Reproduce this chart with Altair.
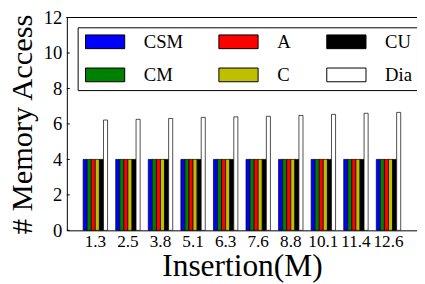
import altair as alt
import pandas as pd

insertions = ["1.3", "2.5", "3.8", "5.1", "6.3", "7.6", "8.8", "10.1", "11.4", "12.6"]
series = ["CSM", "CM", "A", "C", "CU", "Dia"]
colors = ["#0000ff", "#008000", "#ff0000", "#bfbf00", "#000000", "#ffffff"]
csm = [4, 4, 4, 4, 4, 4, 4, 4, 4, 4]
cm = [4, 4, 4, 4, 4, 4, 4, 4, 4, 4]
a = [4, 4, 4, 4, 4, 4, 4, 4, 4, 4]
c = [4, 4, 4, 4, 4, 4, 4, 4, 4, 4]
cu = [4, 4, 4, 4, 4, 4, 4, 4, 4, 4]
dia = [6.22, 6.26, 6.31, 6.37, 6.40, 6.43, 6.48, 6.54, 6.60, 6.65]
y_ticks = [0, 2, 4, 6, 8, 10, 12]

values = {"CSM": csm, "CM": cm, "A": a, "C": c, "CU": cu, "Dia": dia}
rows = []
for s in series:
    for ins, v in zip(insertions, values[s]):
        rows.append({"Insertion": ins, "Series": s, "Value": v})
df = pd.DataFrame(rows)
tick_df = pd.DataFrame({"t": y_ticks})

FONT = "Liberation Serif"
W, H = 357, 217

y_axis = alt.Axis(title="# Memory Access", values=y_ticks,
                  grid=False, ticks=False, tickSize=0, labelOverlap=False,
                  labelFontSize=19, titleFontSize=31, labelPadding=5,
                  titleX=-36, titleBaseline="alphabetic",
                  labelFont=FONT, titleFont=FONT,
                  labelColor="black", titleColor="black",
                  titleFontWeight="normal", domainColor="black", domainWidth=1)
y_scale = alt.Scale(domain=[0, 12])

bars = alt.Chart(df).mark_bar(stroke="black", strokeWidth=0.7).encode(
    x=alt.X("Insertion:N", sort=insertions,
            scale=alt.Scale(paddingInner=0.25, paddingOuter=0.5),
            axis=alt.Axis(title="Insertion(M)", labelAngle=0, ticks=False, tickSize=0,
                          labelFontSize=17.5, titleFontSize=32, labelPadding=2,
                          labelOverlap=False,
                          titleY=46, titleBaseline="alphabetic",
                          labelFont=FONT, titleFont=FONT,
                          labelColor="black", titleColor="black",
                          titleFontWeight="normal", domainColor="black", domainWidth=1)),
    xOffset=alt.XOffset("Series:N", sort=series, scale=alt.Scale(paddingInner=0, paddingOuter=0)),
    y=alt.Y("Value:Q", scale=y_scale, axis=y_axis),
    color=alt.Color("Series:N",
                    scale=alt.Scale(domain=series, range=colors),
                    legend=alt.Legend(orient="none", legendX=11, legendY=10, columns=3,
                                      title=None,
                                      symbolType="M-3.333,-1.1667L3.333,-1.1667L3.333,1.1667L-3.333,1.1667Z",
                                      symbolSize=144, symbolOffset=13.5,
                                      symbolStrokeColor="black",
                                      symbolStrokeWidth=1, symbolOpacity=1,
                                      labelFont=FONT, labelFontSize=19, labelColor="black",
                                      labelOffset=30, columnPadding=33, rowPadding=14,
                                      padding=5, strokeColor="black", fillColor="white")),
)

ticks = alt.Chart(tick_df).mark_rule(color="black", strokeWidth=1).encode(
    y=alt.Y("t:Q", scale=y_scale, axis=y_axis),
    x=alt.value(0),
    x2=alt.value(3),
)

top_line = alt.Chart(tick_df).mark_rule(color="black", strokeWidth=1).encode(
    y=alt.value(0),
    x=alt.value(0),
    x2=alt.value(W),
)

chart = alt.layer(bars, ticks, top_line).properties(
    width=W, height=H,
    autosize=alt.AutoSizeParams(type="none"),
    padding={"left": 60, "top": 7, "right": 0, "bottom": 52},
).configure_view(stroke=None)

chart.save("out.html", embed_options={"renderer": "svg", "actions": False})
